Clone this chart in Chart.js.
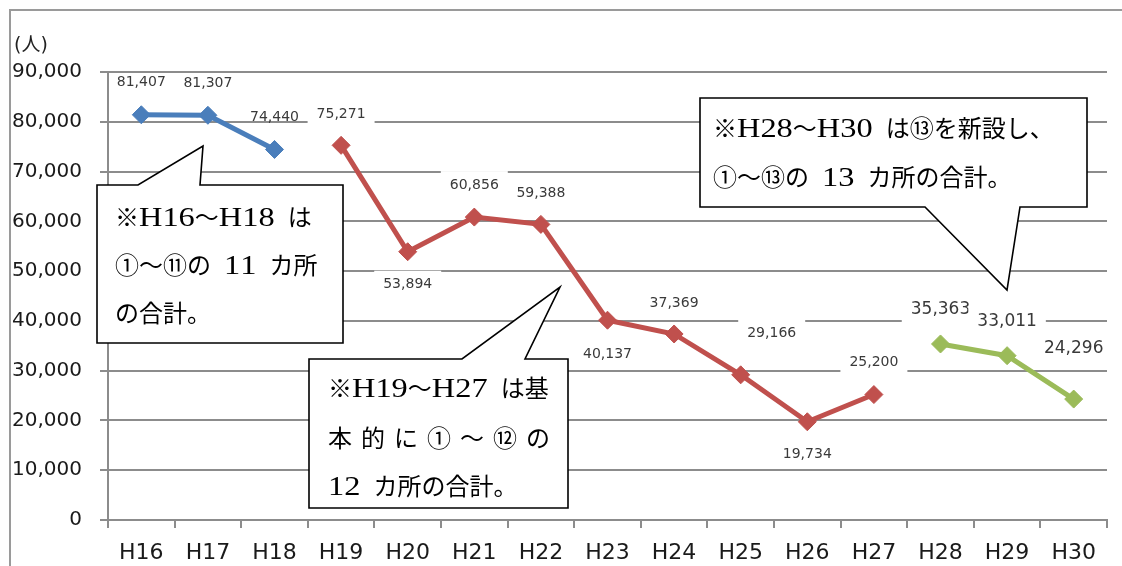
<!DOCTYPE html>
<html>
<head>
<meta charset="utf-8">
<script src="https://cdn.jsdelivr.net/npm/chart.js@4/dist/chart.umd.min.js"></script>
<style>
html,body{margin:0;padding:0;background:#fff;}
#wrap{width:1122px;height:566px;position:relative;}
</style>
</head>
<body>
<div id="wrap"><canvas id="c" width="1122" height="566"></canvas></div>
<script>
// ---- data ----
const categories = ['H16','H17','H18','H19','H20','H21','H22','H23','H24','H25','H26','H27','H28','H29','H30'];
const blueValues  = [81407, 81307, 74440];                                        // H16–H18
const redValues   = [75271, 53894, 60856, 59388, 40137, 37369, 29166, 19734, 25200]; // H19–H27
const greenValues = [35363, 33011, 24296];                                        // H28–H30
const yTicks = [0, 10000, 20000, 30000, 40000, 50000, 60000, 70000, 80000, 90000];
const unitLabel = '(人)';

// label placement (style): offsets of label centre from the point, in px
const blueLabelDx = [0, 0, 0],              blueLabelDy = [-32, -32, -32];
const redLabelDx  = [0, 0, 0, 0, 0, 0, 31, 0, 0], redLabelDy = [-31, 33, -32, -31, 34, -31, -41, 33, -32];
const greenLabelDx = [0, 0, 0],             greenLabelDy = [-34, -34, -50];

// callout notes (annotation text + geometry)
const notes = [
  {lines:['※H16～H18 は','①～⑪の 11 カ所','の合計。'], fit:[323,325,null], justify:[false,false,false],
   box:[97,185,343,343], ptr:[[138,185],[203,146],[200,185]], tx:115, ty:[217,265,313]},
  {lines:['※H19～H27 は基','本的に①～⑫の','12 カ所の合計。'], fit:[550,550,527], justify:[false,true,false],
   box:[309,359,568,508], ptr:[[462,359],[560,287],[525,359]], tx:328, ty:[388,438,486]},
  {lines:['※H28～H30 は⑬を新設し、','①～⑬の 13 カ所の合計。'], fit:[1065,1035], justify:[false,false],
   box:[700,98,1087,207], ptr:[[925,207],[1007,290],[1020,207]], tx:713, ty:[128,177]}
];

// ---- build series padded to the category axis ----
function pad(vals, start){
  const a = new Array(categories.length).fill(null);
  vals.forEach((v,i)=>{ a[start+i] = v; });
  return a;
}
const blueStart = 0, redStart = blueValues.length, greenStart = blueValues.length + redValues.length;

const BLUE = '#4a7ebb', RED = '#c0504d', GREEN = '#9bbb59';
const GRID = '#8c8c8c';

function ds(label, data, color, dx, dy, start, font, bg){
  return {label, data, borderColor:color, backgroundColor:color, borderWidth:5,
    pointStyle:'rectRot', pointRadius:9, pointHoverRadius:9, pointBorderWidth:1,
    pointBackgroundColor:color, pointBorderColor:color, tension:0, spanGaps:false,
    _lbl:{dx, dy, start, font, bg}};
}

const labelPlugin = {
  id:'labels',
  afterDatasetsDraw(chart){
    const ctx = chart.ctx;
    chart.data.datasets.forEach((d, di)=>{
      const meta = chart.getDatasetMeta(di);
      const L = d._lbl;
      d.data.forEach((v, i)=>{
        if (v === null) return;
        const k = i - L.start;
        const pt = meta.data[i];
        const x = pt.x + L.dx[k], y = pt.y + L.dy[k];
        const txt = v.toLocaleString('en-US');
        ctx.save();
        ctx.font = L.font;
        const w = ctx.measureText(txt).width;
        if (L.bg){
          ctx.fillStyle = '#fff';
          ctx.fillRect(x - w/2 - 9, y - 14, w + 18, 28);
        }
        ctx.fillStyle = '#3a3a3a';
        ctx.textAlign = 'center';
        ctx.textBaseline = 'middle';
        ctx.fillText(txt, x, y);
        ctx.restore();
      });
    });
  }
};

const LATIN_FONT = "27px 'Liberation Serif'";
const CJK_FONT = "24px 'Noto Sans CJK JP'";
function isLatin(c){ return c.charCodeAt(0) < 0x2000; }

function drawFitted(ctx, text, x, yMid, fitX, justify){
  const chars = Array.from(text);
  const widths = chars.map(c=>{ ctx.font = isLatin(c) ? LATIN_FONT : CJK_FONT; return ctx.measureText(c).width; });
  let latinW = 0, cjkW = 0;
  chars.forEach((c,i)=>{ if (isLatin(c)) latinW += widths[i]; else cjkW += widths[i]; });
  const spaces = chars.filter(c=>c===' ').length;
  let sx = 1, gap = 0, spaceGap = 0;
  if (fitX){
    const avail = fitX - x;
    if (justify || latinW === 0){
      gap = Math.max(0, (avail - latinW - cjkW) / (chars.length - 1));
    } else {
      sx = Math.min(1.2, Math.max(1, (avail - cjkW) / latinW));
      const rest = avail - cjkW - latinW * sx;
      if (rest > 0){
        if (spaces > 0) spaceGap = Math.min(5, rest / spaces);
        else gap = Math.min(2, rest / (chars.length - 1));
      }
    }
  }
  let cx = x;
  const base = yMid + 9;
  chars.forEach((c,i)=>{
    const lat = isLatin(c);
    ctx.font = lat ? LATIN_FONT : CJK_FONT;
    if (lat && sx !== 1){
      ctx.save();
      ctx.translate(cx, base);
      ctx.scale(sx, 1);
      ctx.fillText(c, 0, 0);
      ctx.restore();
      cx += widths[i] * sx + gap;
    } else {
      ctx.fillText(c, cx, base);
      cx += widths[i] + gap;
    }
    if (c === ' ') cx += spaceGap;
  });
}

const framePlugin = {
  id:'frame',
  beforeDraw(chart){
    const ctx = chart.ctx;
    ctx.save();
    ctx.fillStyle = '#fff';
    ctx.fillRect(0,0,chart.width,chart.height);
    ctx.strokeStyle = '#9a9a9a';
    ctx.lineWidth = 2;
    ctx.beginPath();
    ctx.moveTo(10, chart.height + 5);
    ctx.lineTo(10, 10);
    ctx.lineTo(chart.width + 5, 10);
    ctx.stroke();
    ctx.fillStyle = '#222';
    ctx.font = "19px 'DejaVu Sans', 'Noto Sans CJK JP'";
    ctx.textBaseline = 'middle';
    ctx.textAlign = 'left';
    ctx.fillText(unitLabel, 14, 46);
    ctx.restore();
  },
  afterDraw(chart){
    const ctx = chart.ctx;
    ctx.save();
    notes.forEach(n=>{
      const [x0,y0,x1,y1] = n.box;
      ctx.fillStyle = '#fff';
      ctx.strokeStyle = '#000';
      ctx.lineWidth = 1.6;
      ctx.lineJoin = 'miter';
      ctx.beginPath();
      const p = n.ptr;
      const up = p[1][1] < y0;
      if (up){
        ctx.moveTo(x0,y0); ctx.lineTo(p[0][0],p[0][1]); ctx.lineTo(p[1][0],p[1][1]); ctx.lineTo(p[2][0],p[2][1]);
        ctx.lineTo(x1,y0); ctx.lineTo(x1,y1); ctx.lineTo(x0,y1); ctx.closePath();
      } else {
        ctx.moveTo(x0,y0); ctx.lineTo(x1,y0); ctx.lineTo(x1,y1);
        ctx.lineTo(p[2][0],p[2][1]); ctx.lineTo(p[1][0],p[1][1]); ctx.lineTo(p[0][0],p[0][1]);
        ctx.lineTo(x0,y1); ctx.closePath();
      }
      ctx.fill(); ctx.stroke();
      ctx.fillStyle = '#000';
      ctx.textBaseline = 'alphabetic';
      ctx.textAlign = 'left';
      n.lines.forEach((ln, li)=> drawFitted(ctx, ln, n.tx, n.ty[li], n.fit[li], n.justify[li]));
    });
    ctx.restore();
  }
};

new Chart(document.getElementById('c'), {
  type:'line',
  data:{
    labels: categories,
    datasets:[
      ds('H16-H18', pad(blueValues, blueStart), BLUE, blueLabelDx, blueLabelDy, blueStart, "14px 'DejaVu Sans'", false),
      ds('H19-H27', pad(redValues, redStart), RED, redLabelDx, redLabelDy, redStart, "14px 'DejaVu Sans'", true),
      ds('H28-H30', pad(greenValues, greenStart), GREEN, greenLabelDx, greenLabelDy, greenStart, "17px 'DejaVu Sans'", true)
    ]
  },
  options:{
    responsive:false,
    animation:false,
    devicePixelRatio:1,
    layout:{padding:{left:0, right:15, top:72, bottom:0}},
    plugins:{legend:{display:false}, tooltip:{enabled:false}},
    scales:{
      x:{
        offset:true,
        grid:{offset:true, drawOnChartArea:false, drawTicks:true, tickLength:8, color:GRID, lineWidth:2},
        border:{display:true, color:GRID, width:2},
        ticks:{color:'#1a1a1a', font:{family:'DejaVu Sans', size:22}, padding:12, maxRotation:0, autoSkip:false},
        afterFit(s){ s.height = 46; }
      },
      y:{
        min:0, max:90000,
        afterBuildTicks(s){ s.ticks = yTicks.map(v=>({value:v})); },
        grid:{color:GRID, lineWidth:2, tickLength:8, drawTicks:true},
        border:{display:true, color:GRID, width:2},
        ticks:{color:'#1a1a1a', font:{family:'DejaVu Sans', size:20}, padding:18,
          callback:(v)=>Number(v).toLocaleString('en-US')},
        afterFit(s){ s.width = 108; }
      }
    }
  },
  plugins:[framePlugin, labelPlugin]
});
</script>
</body>
</html>
